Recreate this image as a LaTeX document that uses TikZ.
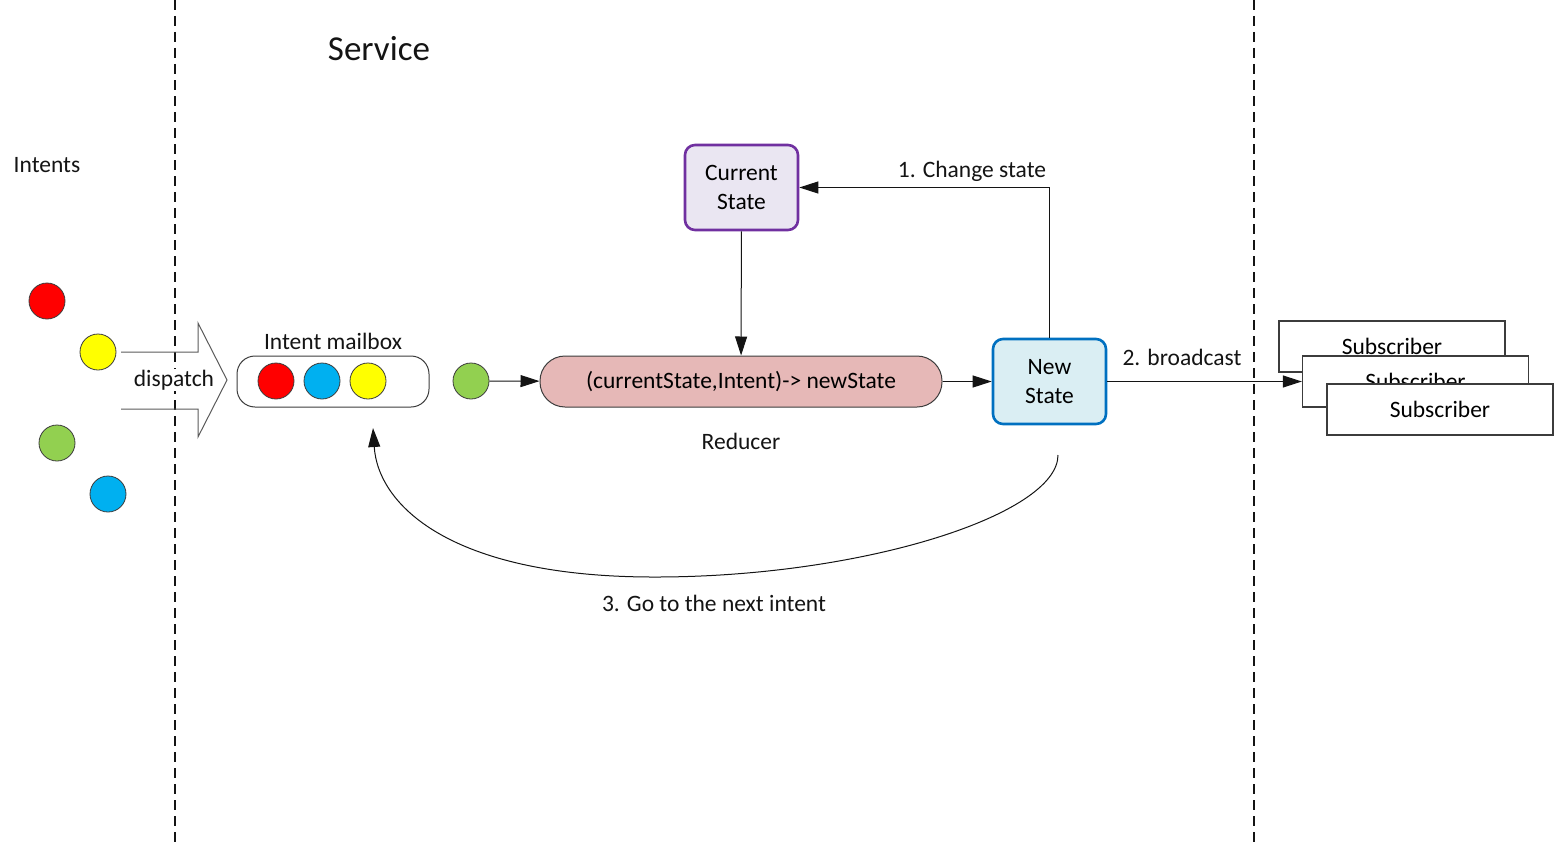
\documentclass[tikz,border=0pt]{standalone}
\usepackage{fontspec}
\setmainfont{Carlito}
\usepackage{tikz}
\usetikzlibrary{arrows.meta, positioning}
\definecolor{mydark}{RGB}{20,20,20}
\definecolor{myrim}{RGB}{60,60,60}
\definecolor{ballred}{RGB}{255,0,0}
\definecolor{ballyellow}{RGB}{255,255,0}
\definecolor{ballgreen}{RGB}{146,208,80}
\definecolor{ballblue}{RGB}{0,176,240}
\definecolor{mypurple}{RGB}{112,48,160}
\definecolor{hdrpurple}{RGB}{234,230,242}
\definecolor{myblue}{RGB}{0,112,192}
\definecolor{hdrblue}{RGB}{218,238,243}
\definecolor{hdrpink}{RGB}{230,184,183}
\definecolor{mygray}{RGB}{90,90,90}
\newcommand{\dgfont}{\fontsize{23.5}{29}\selectfont}
\newcommand{\svcfont}{\fontsize{35}{40}\selectfont}
\tikzset{
  ball/.style={circle, draw=myrim, minimum size=36pt, inner sep=0pt,
    line width=0.8pt},
  mailbox/.style={rectangle, draw=myrim, fill=white, minimum width=192pt,
    minimum height=51pt, rounded corners=18pt, line width=1pt},
  reducer/.style={rectangle, draw=myrim, fill=hdrpink, minimum width=402pt,
    minimum height=51pt, rounded corners=25pt, line width=1pt, font=\dgfont},
  curstate/.style={rectangle, draw=mypurple, fill=hdrpurple,
    minimum width=113pt, minimum height=85pt, align=center,
    rounded corners=10pt, line width=2.6pt, font=\dgfont},
  newstate/.style={rectangle, draw=myblue, fill=hdrblue,
    minimum width=113pt, minimum height=85pt, align=center,
    rounded corners=10pt, line width=2.6pt, font=\dgfont},
  subbox/.style={rectangle, draw=myrim, fill=white, minimum width=226pt,
    minimum height=51pt, line width=1.3pt, font=\dgfont},
  tag/.style={font=\dgfont, inner sep=1pt, color=mydark},
  arrow/.style={-{Triangle[length=19pt,width=12pt]}, line width=1pt, color=mydark},
  divider/.style={dash pattern=on 10pt off 6pt, line width=1.3pt, color=mydark}
}

\begin{document}
\begin{tikzpicture}[x=1pt, y=-1pt]
  \useasboundingbox (0,0) rectangle (1555,843);

  \draw[divider] (175,0) -- (175,843);
  \draw[divider] (1254,0) -- (1254,843);

  \node[font=\svcfont, color=mydark] (service) at (379,49) {Service};
  \node[tag] (intents) at (47,165) {Intents};

  \node[ball, fill=ballred] (i1) at (47,301) {};
  \node[ball, fill=ballyellow] (i2) at (98,352) {};
  \node[ball, fill=ballgreen] (i3) at (57,443) {};
  \node[ball, fill=ballblue] (i4) at (108,494) {};

  \draw[mygray, line width=1pt] (121,352) -- (198,352) -- (198,323) -- (227,380)
    -- (198,437) -- (198,409) -- (121,409);
  \node[tag, fill=white] (dispatch) at (174,380) {dispatch};

  \node[mailbox] (box) at (333,381.5) {};
  \node[tag] (boxlbl) at (333,341) {Intent mailbox};
  \node[ball, fill=ballred] (m1) at (276,381) {};
  \node[ball, fill=ballblue] (m2) at (322,381) {};
  \node[ball, fill=ballyellow] (m3) at (368,381) {};

  \node[ball, fill=ballgreen] (next) at (471,381) {};
  \node[reducer] (red) at (741,381.5) {(currentState,Intent)-> newState};
  \node[tag] (redlbl) at (741,441) {Reducer};

  \node[curstate] (cur) at (741.5,187.5) {Current\\State};
  \node[newstate] (new) at (1049.5,381.5) {New\\State};

  \node[subbox] (sub1) at (1392,346.5) {Subscriber};
  \node[subbox] (sub2) at (1415.5,381.5) {Subscriber};
  \node[subbox] (sub3) at (1440,409.5) {Subscriber};

  \draw[arrow] (next) -- (red);
  \draw[arrow] (cur) -- (red);
  \draw[arrow] (red) -- (new);
  \draw[arrow] (new.north) |- (cur.east);
  \node[tag] (change) at (972,171) {1. Change state};
  \draw[arrow] (new.east) -- (sub2.west);
  \node[tag] (bcast) at (1182,357) {2. broadcast};

  \coordinate (loopstart) at (1058,455);
  \coordinate (loopend) at (373,428);
  \draw[arrow] (loopstart) .. controls (1058,515) and (860,578) .. (650,577)
    .. controls (450,576) and (378,505) .. (loopend);
  \node[tag] (loop) at (714,603) {3. Go to the next intent};
\end{tikzpicture}
\end{document}
